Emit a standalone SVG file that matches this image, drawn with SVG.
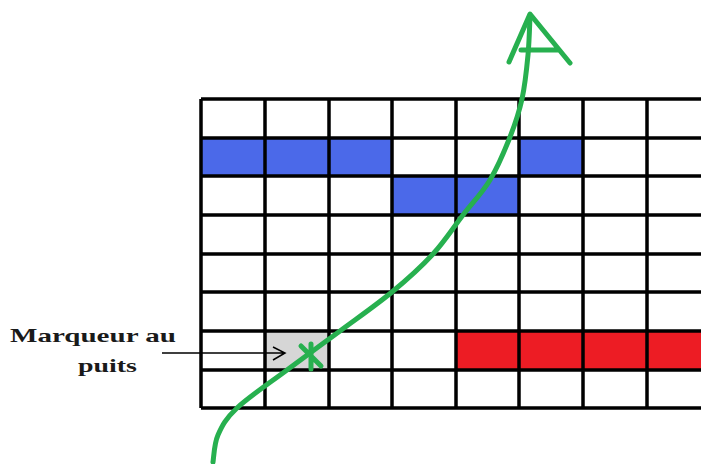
<svg xmlns="http://www.w3.org/2000/svg" width="701" height="464" viewBox="0 0 701 464">
  <style>
    .blue { fill: #4b69e9; }
    .red { fill: #ed1c24; }
    .gray { fill: #d6d6d6; }
    .grid { stroke: #000; stroke-width: 3.5; fill: none; }
    .path { stroke: #27b04f; stroke-width: 5; fill: none; stroke-linecap: round; stroke-linejoin: round; }
    .label { font-family: "Liberation Serif", "DejaVu Serif", serif; font-weight: bold; font-size: 19px; fill: #1a1a1a; }
    .ptr { stroke: #000; stroke-width: 1.5; fill: none; }
  </style>
  <rect width="701" height="464" fill="#fff"/>

  <g id="cells">
    <rect class="blue" x="201" y="138" width="191" height="38"/>
    <rect class="blue" x="519" y="138" width="64" height="38"/>
    <rect class="blue" x="392" y="176" width="127" height="39"/>
    <rect class="red" x="456" y="331" width="245" height="39"/>
    <rect class="gray" x="265" y="331" width="64" height="39"/>
  </g>

  <g id="grid" class="grid">
    <path d="M201,99 H701 M201,138 H701 M201,176 H701 M201,215 H701 M201,254 H701 M201,292 H701 M201,331 H701 M201,370 H701 M201,408 H701"/>
    <path d="M201,99 V408 M265,99 V408 M329,99 V408 M392,99 V408 M456,99 V408 M519,99 V408 M583,99 V408 M647,99 V408"/>
  </g>

  <g id="label">
    <text class="label" x="10" y="342" textLength="166" lengthAdjust="spacingAndGlyphs">Marqueur au</text>
    <text class="label" x="78" y="372" textLength="59" lengthAdjust="spacingAndGlyphs">puits</text>
  </g>

  <g id="connectors">
    <path class="ptr" d="M162,353 H285 M273,347 L285,353 L273,360"/>
    <path class="path" d="M213,462 C213.8,457.5 214,444 218,435 C222,426 225.5,418.8 237,408 C248.5,397.2 269.8,382.8 287,370 C304.2,357.2 322.5,344 340,331 C357.5,318 376.5,304.8 392,292 C407.5,279.2 421.2,266.8 433,254 C444.8,241.2 453.5,227.3 463,215 C472.5,202.7 482.2,193 490,180 C497.8,167 504.7,150.5 510,137 C515.3,123.5 519,112.7 522,99 C525,85.3 526.7,68.8 528,55 C529.3,41.2 529.7,22.5 530,16"/>
    <path class="path" d="M509,62 L530,14 L570,63 M521,50 H558"/>
    <path class="path" d="M301,346 L321,366 M311,344 V369"/>
  </g>
</svg>
